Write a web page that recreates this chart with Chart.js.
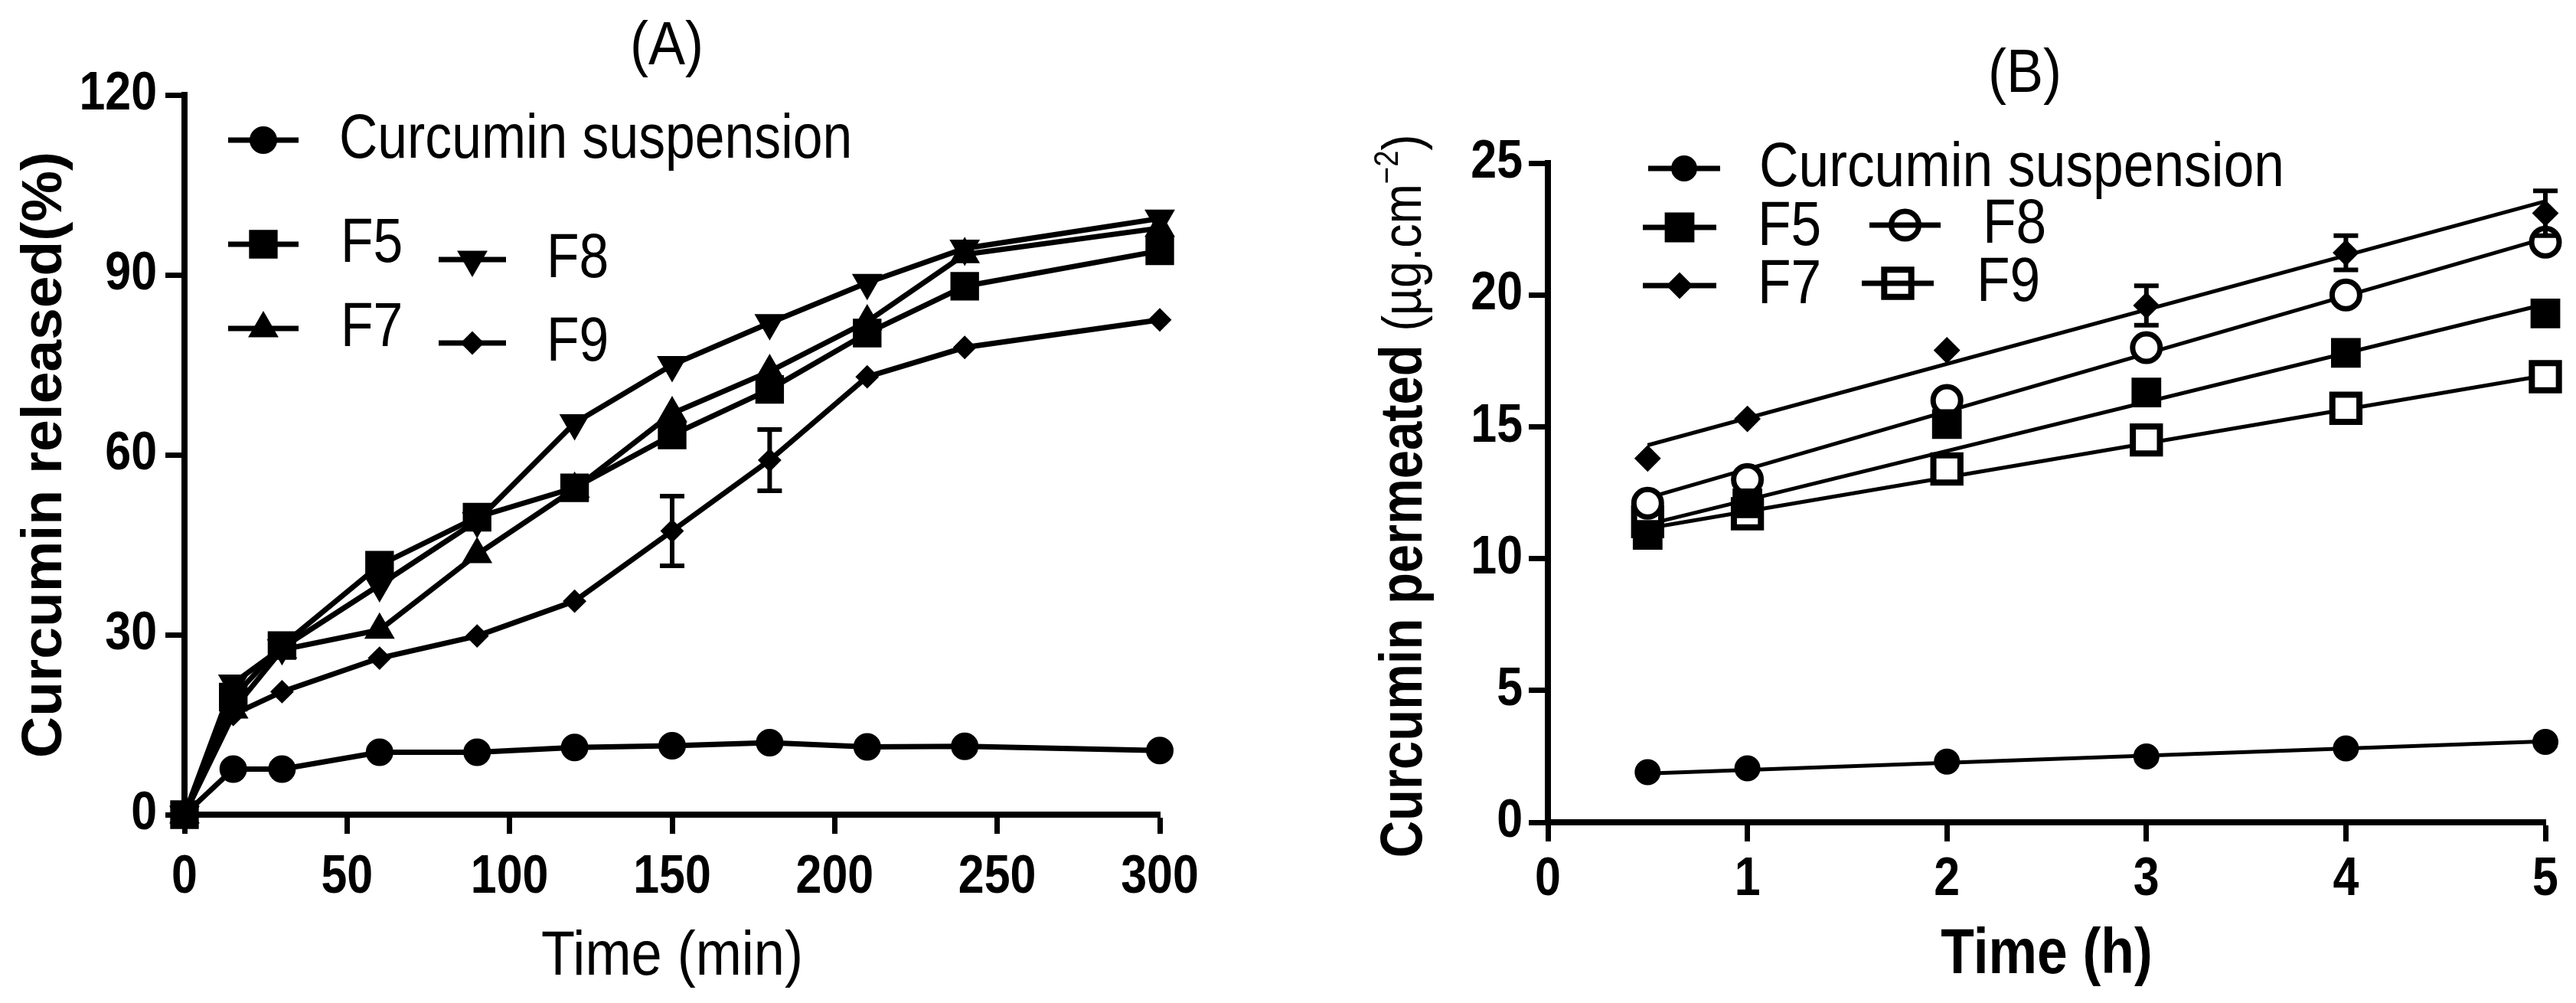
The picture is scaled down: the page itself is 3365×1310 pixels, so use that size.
<!DOCTYPE html>
<html>
<head>
<meta charset="utf-8">
<title>Curcumin release and permeation</title>
<script src="https://cdn.jsdelivr.net/npm/chart.js@4.4.1/dist/chart.umd.min.js"></script>
<style>
  html, body { margin: 0; background: #fff; }
  #wrap { position: relative; width: 3365px; height: 1310px; background: #fff; }
  canvas { position: absolute; top: 0; }
</style>
</head>
<body>
<div id="wrap">
  <canvas id="chartA" width="1700" height="1310" style="left:0;width:1700px;height:1310px"></canvas>
  <canvas id="chartB" width="1665" height="1310" style="left:1700px;width:1665px;height:1310px"></canvas>
</div>
<script>
// ---- data: panel A, in vitro release (%)
const releaseTimes = [0, 15, 30, 60, 90, 120, 150, 180, 210, 240, 300];
const releaseSusp  = [0, 7.6, 7.6, 10.4, 10.4, 11.2, 11.5, 12.0, 11.3, 11.4, 10.7];
const releaseF5    = [0, 19.6, 28.2, 41.6, 49.6, 54.5, 63.3, 70.9, 80.3, 88.1, 94.0];
const releaseF7    = [0, 17.5, 27.5, 30.8, 43.4, 54.3, 66.9, 73.9, 82.2, 93.4, 97.8];
const releaseF8    = [0, 21.9, 27.8, 38.3, 49.0, 65.3, 75.0, 82.0, 88.7, 94.4, 99.4];
const releaseF9    = [0, 16.7, 20.5, 26.1, 29.8, 35.6, 47.3, 59.1, 73.0, 77.9, 82.5];
const releaseF9Err = [0, 0, 0, 0, 0, 0, 5.8, 5.1, 0, 0, 0];

// ---- data: panel B, ex vivo permeation (ug/cm2)
const permTimes = [0.5, 1, 2, 3, 4, 5];
const permSusp  = [1.9, 2.05, 2.3, 2.5, 2.8, 3.05];
const permF5    = [10.9, 12.1, 15.1, 16.3, 17.8, 19.3];
const permF7    = [13.8, 15.3, 17.9, 19.6, 21.6, 23.1];
const permF7Err = [0, 0, 0, 0.75, 0.65, 0.85];
const permF8    = [12.1, 13.0, 16.0, 18.0, 20.0, 22.0];
const permF9    = [11.4, 11.7, 13.4, 14.5, 15.7, 16.9];
// straight trend lines as drawn in the figure (end points)
const fitTimes = [0.5, 5];
const fitSusp  = [1.85, 3.07];
const fitF5    = [11.3, 19.65];
const fitF7    = [14.3, 23.55];
const fitF8    = [12.3, 22.15];
const fitF9    = [11.15, 16.95];

const seriesNames = ['Curcumin suspension', 'F5', 'F7', 'F8', 'F9'];
const ticksA = { x: [0, 300, 50], y: [0, 120, 30] };
const ticksB = { x: [0, 5, 1], y: [0, 25, 5] };

const FONT = '"Liberation Sans", Arial, sans-serif';
Chart.defaults.font.family = FONT;
Chart.defaults.color = '#000';

// text squeezed horizontally, the figure uses a narrow face
function narrowText(ctx, text, x, y, font, sx, align, rotate) {
  ctx.save();
  ctx.translate(x, y);
  if (rotate) ctx.rotate(-Math.PI / 2);
  ctx.scale(sx, 1);
  ctx.font = font;
  ctx.textAlign = align;
  ctx.textBaseline = 'middle';
  ctx.fillStyle = '#000';
  ctx.fillText(text, 0, 0);
  ctx.restore();
}

function pts(xs, ys) { return xs.map((x, i) => ({ x: x, y: ys[i] })); }

function markerSeries(label, xs, ys, style, radius, opts) {
  return Object.assign({
    label: label,
    data: pts(xs, ys),
    borderColor: '#000',
    borderWidth: 7,
    pointStyle: style,
    pointRadius: radius,
    pointHoverRadius: radius,
    pointRotation: 0,
    pointBackgroundColor: '#000',
    pointBorderColor: '#000',
    pointBorderWidth: 2,
    tension: 0,
    fill: false,
    clip: false,
    order: 1
  }, opts || {});
}

function fitLine(xs, ys) {
  return {
    label: '',
    data: pts(xs, ys),
    borderColor: '#000',
    borderWidth: 5,
    pointRadius: 0,
    tension: 0,
    fill: false,
    clip: false,
    order: 2
  };
}

function axis(range, fitSize, horizontal) {
  return {
    type: 'linear',
    min: range[0],
    max: range[1],
    ticks: {
      stepSize: range[2],
      color: 'rgba(0,0,0,0)',   // labels are drawn by the axisText plugin
      maxRotation: 0,
      autoSkip: false,
      font: { size: 70, weight: 'bold' }
    },
    grid: { drawOnChartArea: false, drawTicks: true, tickLength: 25, tickWidth: 7, tickColor: '#000' },
    border: { display: true, color: '#000', width: 8 },
    afterFit: function (s) {
      if (horizontal) s.height = fitSize; else s.width = fitSize;
    }
  };
}

const errorBars = {
  id: 'errorBars',
  afterDatasetsDraw(chart) {
    const ctx = chart.ctx, xs = chart.scales.x, ys = chart.scales.y;
    ctx.save();
    ctx.strokeStyle = '#000';
    ctx.lineWidth = 6;
    chart.data.datasets.forEach(ds => {
      if (!ds.errors) return;
      ds.data.forEach((p, i) => {
        const e = ds.errors[i];
        if (!e) return;
        const x = xs.getPixelForValue(p.x);
        const y1 = ys.getPixelForValue(p.y + e);
        const y2 = ys.getPixelForValue(p.y - e);
        ctx.beginPath();
        ctx.moveTo(x, y1); ctx.lineTo(x, y2);
        ctx.moveTo(x - 16, y1); ctx.lineTo(x + 16, y1);
        ctx.moveTo(x - 16, y2); ctx.lineTo(x + 16, y2);
        ctx.stroke();
      });
    });
    ctx.restore();
  }
};

// tick labels, axis titles, panel letter, legend
const axisText = {
  id: 'axisText',
  afterDraw(chart, args, o) {
    const ctx = chart.ctx, xs = chart.scales.x, ys = chart.scales.y;
    const tickFont = 'bold 70px ' + FONT;
    xs.ticks.forEach(t => narrowText(ctx, t.label, xs.getPixelForValue(t.value), o.xTickY, tickFont, 0.87, 'center'));
    ys.ticks.forEach(t => narrowText(ctx, t.label, o.yTickX, ys.getPixelForValue(t.value), tickFont, 0.87, 'right'));

    const cx = (chart.chartArea.left + chart.chartArea.right) / 2;
    narrowText(ctx, o.xTitle.text, cx, o.xTitle.y, o.xTitle.font, o.xTitle.sx, 'center');

    narrowText(ctx, o.letter.text, o.letter.x, o.letter.y, '80px ' + FONT, 0.9, 'center');

    // rotated y title, possibly in several fonts
    ctx.save();
    ctx.translate(o.yTitle.x, o.yTitle.y);
    ctx.rotate(-Math.PI / 2);
    ctx.scale(o.yTitle.sx, 1);
    ctx.textBaseline = 'middle';
    ctx.textAlign = 'left';
    ctx.fillStyle = '#000';
    let total = 0;
    o.yTitle.parts.forEach(p => { ctx.font = p.font; total += ctx.measureText(p.text).width; });
    let x = -total / 2;
    o.yTitle.parts.forEach(p => {
      ctx.font = p.font;
      ctx.fillText(p.text, x, p.dy);
      x += ctx.measureText(p.text).width;
    });
    ctx.restore();

    // legend
    o.legend.forEach(r => {
      const ds = chart.data.datasets[r.ds];
      const mx = (r.x1 + r.x2) / 2;
      const drawLine = () => {
        ctx.save();
        ctx.strokeStyle = '#000';
        ctx.lineWidth = 7;
        ctx.beginPath(); ctx.moveTo(r.x1, r.y); ctx.lineTo(r.x2, r.y); ctx.stroke();
        ctx.restore();
      };
      if (!o.lineOver) drawLine();
      ctx.save();
      ctx.fillStyle = ds.pointBackgroundColor;
      ctx.strokeStyle = ds.pointBorderColor;
      ctx.lineWidth = ds.pointBorderWidth;
      Chart.helpers.drawPoint(ctx, {
        pointStyle: ds.pointStyle, radius: ds.pointRadius,
        rotation: ds.pointRotation, borderWidth: ds.pointBorderWidth
      }, mx, r.y);
      ctx.restore();
      if (o.lineOver) drawLine();
      narrowText(ctx, ds.label, r.tx, r.y, '82px ' + FONT, o.legendSx, 'left');
    });
  }
};

// ---------- panel A
const dsA = [
  markerSeries(seriesNames[0], releaseTimes, releaseSusp, 'circle', 17),
  markerSeries(seriesNames[1], releaseTimes, releaseF5, 'rect', 25),
  markerSeries(seriesNames[2], releaseTimes, releaseF7, 'triangle', 21),
  markerSeries(seriesNames[3], releaseTimes, releaseF8, 'triangle', 21, { pointRotation: 180 }),
  markerSeries(seriesNames[4], releaseTimes, releaseF9, 'rectRot', 14, { errors: releaseF9Err })
];

new Chart(document.getElementById('chartA'), {
  type: 'line',
  data: { datasets: dsA },
  options: {
    responsive: false,
    animation: false,
    devicePixelRatio: 1,
    layout: { padding: { top: 124, right: 185, bottom: 0, left: 0 } },
    plugins: {
      legend: { display: false },
      tooltip: { enabled: false },
      axisText: {
        xTickY: 1147,
        yTickX: 205,
        xTitle: { text: 'Time (min)', y: 1250, font: '82px ' + FONT, sx: 0.88 },
        yTitle: { x: 59, y: 594, sx: 1,
          parts: [{ text: 'Curcumin released(%)', font: 'bold 75px ' + FONT, dy: 0 }] },
        letter: { text: '(A)', x: 871, y: 62 },
        legendSx: 0.85,
        lineOver: false,
        legend: [
          { ds: 0, x1: 298, x2: 390, y: 183, tx: 443 },
          { ds: 1, x1: 298, x2: 390, y: 319, tx: 445 },
          { ds: 2, x1: 298, x2: 390, y: 429, tx: 445 },
          { ds: 3, x1: 573, x2: 661, y: 339, tx: 714 },
          { ds: 4, x1: 573, x2: 661, y: 448, tx: 714 }
        ]
      }
    },
    scales: { x: axis(ticksA.x, 246, true), y: axis(ticksA.y, 241, false) }
  },
  plugins: [errorBars, axisText]
});

// ---------- panel B
const dsB = [
  markerSeries(seriesNames[0], permTimes, permSusp, 'circle', 16, { showLine: false }),
  markerSeries(seriesNames[1], permTimes, permF5, 'rect', 26, { showLine: false }),
  markerSeries(seriesNames[2], permTimes, permF7, 'rectRot', 16, { showLine: false, errors: permF7Err }),
  markerSeries(seriesNames[3], permTimes, permF8, 'circle', 18,
    { showLine: false, pointBackgroundColor: '#fff', pointBorderWidth: 7 }),
  markerSeries(seriesNames[4], permTimes, permF9, 'rect', 25,
    { showLine: false, pointBackgroundColor: '#fff', pointBorderWidth: 8 }),
  fitLine(fitTimes, fitSusp),
  fitLine(fitTimes, fitF5),
  fitLine(fitTimes, fitF7),
  fitLine(fitTimes, fitF8),
  fitLine(fitTimes, fitF9)
];

new Chart(document.getElementById('chartB'), {
  type: 'line',
  data: { datasets: dsB },
  options: {
    responsive: false,
    animation: false,
    devicePixelRatio: 1,
    layout: { padding: { top: 213, right: 40, bottom: 0, left: 0 } },
    plugins: {
      legend: { display: false },
      tooltip: { enabled: false },
      axisText: {
        xTickY: 1150,
        yTickX: 289,
        xTitle: { text: 'Time (h)', y: 1248, font: 'bold 84px ' + FONT, sx: 0.85 },
        yTitle: { x: 136, y: 648, sx: 0.87,
          parts: [
            { text: 'Curcumin permeated', font: 'bold 77px ' + FONT, dy: 0 },
            { text: ' (\u00b5g.cm', font: '72px ' + FONT, dy: 0 },
            { text: '\u22122', font: '44px ' + FONT, dy: -22 },
            { text: ')', font: '72px ' + FONT, dy: 0 }
          ] },
        letter: { text: '(B)', x: 945, y: 98 },
        legendSx: 0.87,
        lineOver: true,
        legend: [
          { ds: 0, x1: 453, x2: 547, y: 220, tx: 598 },
          { ds: 1, x1: 446, x2: 542, y: 297, tx: 596 },
          { ds: 2, x1: 446, x2: 542, y: 373, tx: 596 },
          { ds: 3, x1: 742, x2: 835, y: 294, tx: 890 },
          { ds: 4, x1: 732, x2: 826, y: 370, tx: 882 }
        ]
      }
    },
    scales: { x: axis(ticksB.x, 236, true), y: axis(ticksB.y, 322, false) }
  },
  plugins: [errorBars, axisText]
});
</script>
</body>
</html>
